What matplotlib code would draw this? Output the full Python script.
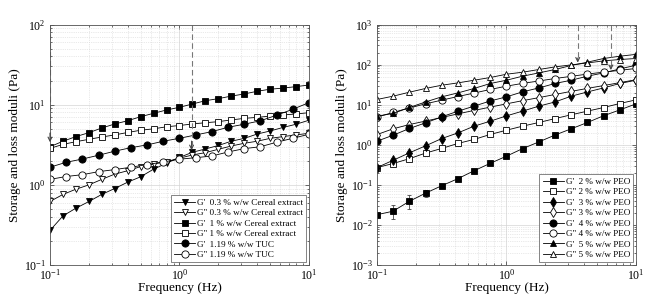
import matplotlib
matplotlib.use('Agg')
import matplotlib.pyplot as plt
from matplotlib.ticker import LogLocator, NullFormatter

plt.rcParams['font.family'] = ['Liberation Serif', 'DejaVu Serif']
plt.rcParams['mathtext.fontset'] = 'stix'

# frequency sweeps (Hz)
freq_a = [0.1, 0.126, 0.158, 0.2, 0.251, 0.316, 0.398, 0.501, 0.631, 0.794, 1.0,
          1.26, 1.58, 2.0, 2.51, 3.16, 3.98, 5.01, 6.31, 7.94, 10.0]
freq_b = [0.1, 0.133, 0.178, 0.237, 0.316, 0.422, 0.562, 0.75, 1.0,
          1.33, 1.78, 2.37, 3.16, 4.22, 5.62, 7.5, 10.0]

# left panel: cereal extract and TUC
gp_03 = [0.27, 0.41, 0.51, 0.62, 0.76, 0.90, 1.08, 1.26, 1.57, 1.86, 2.2,
         2.55, 2.8, 3.1, 3.5, 3.8, 4.3, 4.7, 5.2, 5.7, 6.4]
gpp_03 = [0.62, 0.76, 0.88, 1.0, 1.17, 1.36, 1.5, 1.69, 1.82, 1.95, 2.15,
          2.36, 2.52, 2.78, 3.05, 3.3, 3.5, 3.8, 4.0, 4.2, 4.4]
gp_1 = [2.99, 3.5, 3.99, 4.48, 5.12, 5.74, 6.31, 7.08, 7.81, 8.59, 9.28,
        10.2, 11.2, 11.9, 12.8, 13.6, 14.7, 15.6, 16.1, 16.8, 17.6]
gpp_1 = [2.85, 3.2, 3.45, 3.7, 3.95, 4.2, 4.5, 4.8, 5.0, 5.3, 5.5,
         5.75, 5.95, 6.15, 6.45, 6.75, 6.95, 7.2, 7.45, 7.65, 7.95]
gp_tuc = [1.66, 1.91, 2.1, 2.34, 2.63, 2.91, 3.15, 3.5, 3.81, 4.19, 4.61,
          5.23, 5.7, 6.31, 7.38, 8.77, 10.6]
gpp_tuc = [1.17, 1.27, 1.34, 1.46, 1.55, 1.66, 1.79, 1.93, 2.09, 2.18, 2.29,
           2.57, 2.83, 2.99, 3.4, 3.81, 4.28]

# right panel: PEO solutions
gp_2 = [0.018, 0.022, 0.039, 0.062, 0.095, 0.143, 0.225, 0.345, 0.52, 0.8,
        1.18, 1.75, 2.5, 3.6, 5.3, 7.4, 10.5]
gp_2_lo = [0.002, 0.0083, 0.0145, 0.012, 0, 0, 0, 0, 0, 0, 0, 0, 0, 0, 0, 0, 0]
gp_2_hi = [0.002, 0.010, 0.016, 0.011, 0, 0, 0, 0, 0, 0, 0, 0, 0, 0, 0, 0, 0]
gpp_2 = [0.27, 0.34, 0.45, 0.62, 0.81, 1.08, 1.36, 1.81, 2.31, 2.91, 3.6,
         4.5, 5.6, 6.9, 8.5, 10.7, 13.2]
gp_3 = [0.27, 0.41, 0.63, 0.94, 1.43, 1.98, 2.91, 3.88, 5.26, 6.9, 9.2,
        11.7, 16.3, 20.8, 26.2, 33.8, 40.8]
gpp_3 = [1.8, 2.5, 3.2, 3.9, 4.8, 5.9, 7.2, 8.7, 10.5, 12.6, 15.0,
         18.0, 21.5, 25.5, 30.0, 35.5, 42.0]
gp_4 = [1.23, 1.73, 2.55, 3.52, 4.97, 6.9, 9.2, 12.4, 15.7, 20.9, 26.2,
        33.8, 40.8, 51.4, 62.1, 78.0, 96.6]
gpp_4 = [4.9, 6.4, 8.3, 10.5, 13.0, 16.0, 19.5, 24.0, 29.0, 34.0, 39.0,
         45.0, 51.0, 58.0, 65.0, 72.0, 80.0]
gp_5 = [5.17, 6.04, 8.52, 11.7, 15.7, 19.7, 25.4, 33.8, 40.8, 51.4, 62.1,
        75.5, 95.1, 115, 142, 162, 180]
gpp_5 = [13.5, 16.3, 20.5, 25.4, 30.6, 35.0, 40.8, 47.7, 57.6, 64.6, 75.5,
         87.7, 98.4, 110, 124, 134, 142]

# crossover arrows: (frequency, value at arrow tip)
cross_left = [(0.1, 3.4), (1.24, 2.7)]
cross_right = [(3.55, 112), (6.4, 73)]

fig = plt.figure(figsize=(6.64, 2.98), dpi=100)
ax1 = fig.add_axes([0.0753, 0.1107, 0.390, 0.807])
ax2 = fig.add_axes([0.5678, 0.1107, 0.390, 0.807])

line_kw = dict(color='black', lw=0.6, ms=4.8, mew=0.6, mec='black')


def curve(ax, x, y, marker, filled, label, ms=None):
    kw = dict(line_kw)
    if ms is not None:
        kw['ms'] = ms
    ax.plot(x, y, marker=marker, mfc='black' if filled else 'white',
            label=label, **kw)


curve(ax1, freq_a, gp_03, 'v', True, "G'  0.3 % w/w Cereal extract")
curve(ax1, freq_a, gpp_03, 'v', False, 'G" 0.3 % w/w Cereal extract')
curve(ax1, freq_a, gp_1, 's', True, "G'  1 % w/w Cereal extract", ms=3.9)
curve(ax1, freq_a, gpp_1, 's', False, 'G" 1 % w/w Cereal extract', ms=3.9)
curve(ax1, freq_b, gp_tuc, 'o', True, "G'  1.19 % w/w TUC", ms=5.2)
curve(ax1, freq_b, gpp_tuc, 'o', False, 'G" 1.19 % w/w TUC', ms=5.2)

ax2.errorbar(freq_b, gp_2, yerr=[gp_2_lo, gp_2_hi], fmt='none', ecolor='#444444',
             elinewidth=0.6, capsize=1.5, capthick=0.6)
curve(ax2, freq_b, gp_2, 's', True, "G'  2 % w/w PEO", ms=3.9)
curve(ax2, freq_b, gpp_2, 's', False, 'G" 2 % w/w PEO', ms=3.9)
curve(ax2, freq_b, gp_3, 'd', True, "G'  3 % w/w PEO")
curve(ax2, freq_b, gpp_3, 'd', False, 'G" 3 % w/w PEO')
curve(ax2, freq_b, gp_4, 'o', True, "G'  4 % w/w PEO", ms=5.2)
curve(ax2, freq_b, gpp_4, 'o', False, 'G" 4 % w/w PEO', ms=5.2)
curve(ax2, freq_b, gp_5, '^', True, "G'  5 % w/w PEO")
curve(ax2, freq_b, gpp_5, '^', False, 'G" 5 % w/w PEO')

for ax, ylim, arrows in [(ax1, (0.1, 100), cross_left), (ax2, (1e-3, 1e3), cross_right)]:
    ax.set_xscale('log')
    ax.set_yscale('log')
    ax.set_xlim(0.1, 10)
    ax.set_ylim(*ylim)
    ax.xaxis.set_major_locator(LogLocator(base=10, numticks=10))
    ax.yaxis.set_major_locator(LogLocator(base=10, numticks=10))
    ax.xaxis.set_minor_locator(LogLocator(base=10, subs=range(2, 10), numticks=20))
    ax.yaxis.set_minor_locator(LogLocator(base=10, subs=range(2, 10), numticks=20))
    ax.xaxis.set_minor_formatter(NullFormatter())
    ax.yaxis.set_minor_formatter(NullFormatter())
    ax.grid(True, which='major', color='#d4d4d4', lw=0.5, ls='-')
    ax.grid(True, which='minor', color='#d4d4d4', lw=0.5, ls=':')
    ax.set_axisbelow(True)
    ax.tick_params(which='both', direction='in', top=True, right=True,
                   colors='#333333', labelcolor='black', labelsize=8.5, width=0.5)
    ax.tick_params(which='major', length=3)
    ax.tick_params(axis='x', which='major', pad=2)
    ax.tick_params(axis='y', which='major', pad=3)
    ax.tick_params(which='minor', length=1.6)
    for s in ax.spines.values():
        s.set_color('#555555')
        s.set_linewidth(0.6)
    ax.set_xlabel('Frequency (Hz)', fontsize=9.5, labelpad=0)
    ax.set_ylabel('Storage and loss moduli (Pa)', fontsize=9.5, labelpad=2)
    for fx, fy in arrows:
        ax.plot([fx, fx], [ylim[1], fy * 1.15], color='#777777', lw=0.8, ls=(0, (5, 3)))
        ax.annotate('', xy=(fx, fy), xytext=(fx, fy * 1.3),
                    arrowprops=dict(arrowstyle='->', color='#444444', lw=0.8,
                                    mutation_scale=7, shrinkA=0, shrinkB=0))

leg_kw = dict(fontsize=6.6, handlelength=2.3, handletextpad=0.2, labelspacing=0.22,
              borderpad=0.35, borderaxespad=0.3, fancybox=False, framealpha=1,
              edgecolor='#555555')
lg1 = ax1.legend(loc='lower right', **leg_kw)
lg2 = ax2.legend(loc='lower right', **leg_kw)
for lg in (lg1, lg2):
    lg.get_frame().set_linewidth(0.5)

fig.savefig('out.png', dpi=100)
